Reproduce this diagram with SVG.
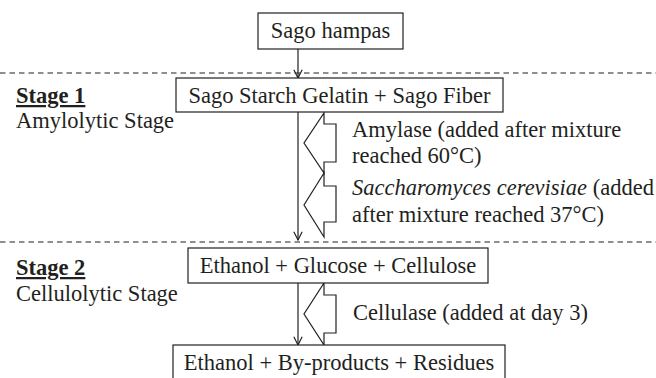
<svg xmlns="http://www.w3.org/2000/svg" width="656" height="378" viewBox="0 0 656 378">
<style>
text{font-family:'Liberation Serif','Times New Roman',Times,serif;font-size:22.5px;fill:#231f20}
.box{fill:#fff;stroke:#231f20;stroke-width:1.2}
.ln{fill:none;stroke:#231f20;stroke-width:1.2}
.dash{fill:none;stroke:#231f20;stroke-width:1.1;stroke-dasharray:5.5,4}
.blk{fill:#fff;stroke:#231f20;stroke-width:1.2;stroke-linejoin:miter}
.stage{font-weight:bold;text-decoration:underline}
</style>
<defs>
<marker id="arr" viewBox="0 0 12 12" refX="11" refY="6" markerWidth="10" markerHeight="10" markerUnits="userSpaceOnUse" orient="auto">
<path d="M1,1 L11,6 L1,11" fill="none" stroke="#231f20" stroke-width="1.4"/>
</marker>
</defs>
<rect width="656" height="378" fill="#fff"/>
<g id="dividers">
<line class="dash" x1="0" y1="73" x2="656" y2="73"/>
<line class="dash" x1="0" y1="242" x2="656" y2="242"/>
</g>
<g id="stage1-label">
<text class="stage" x="16" y="103">Stage 1</text>
<text x="16" y="128">Amylolytic Stage</text>
</g>
<g id="stage2-label">
<text class="stage" x="16" y="275">Stage 2</text>
<text x="16" y="301">Cellulolytic Stage</text>
</g>
<g id="connectors">
<line class="ln" x1="298" y1="49" x2="298" y2="78" marker-end="url(#arr)"/>
<line class="ln" x1="298" y1="112" x2="298" y2="240" marker-end="url(#arr)"/>
<line class="ln" x1="298" y1="283" x2="298" y2="345" marker-end="url(#arr)"/>
</g>
<g id="amylase-input">
<polygon class="blk" points="324,113 324,124 336,124 336,162 324,162 324,173 304,143"/>
<text x="352" y="137">Amylase (added after mixture</text>
<text x="352" y="163">reached 60°C)</text>
</g>
<g id="yeast-input">
<polygon class="blk" points="324,173 324,186 336,186 336,222 324,222 324,237 304,205"/>
<text x="352" y="195"><tspan font-style="italic">Saccharomyces cerevisiae</tspan> (added</text>
<text x="352" y="222">after mixture reached 37°C)</text>
</g>
<g id="cellulase-input">
<polygon class="blk" points="324,283 324,295 336,295 336,333 324,333 324,345 304,314"/>
<text x="353" y="320">Cellulase (added at day 3)</text>
</g>
<g id="node-hampas">
<rect class="box" x="258" y="13" width="145" height="36"/>
<text x="330.5" y="38" text-anchor="middle">Sago hampas</text>
</g>
<g id="node-starch">
<rect class="box" x="176" y="78" width="327" height="34"/>
<text x="339.5" y="103" text-anchor="middle">Sago Starch Gelatin + Sago Fiber</text>
</g>
<g id="node-glucose">
<rect class="box" x="188" y="248" width="300" height="35"/>
<text x="338" y="273" text-anchor="middle">Ethanol + Glucose + Cellulose</text>
</g>
<g id="node-products">
<rect class="box" x="173" y="345" width="332" height="40"/>
<text x="339" y="370" text-anchor="middle">Ethanol + By-products + Residues</text>
</g>
</svg>
